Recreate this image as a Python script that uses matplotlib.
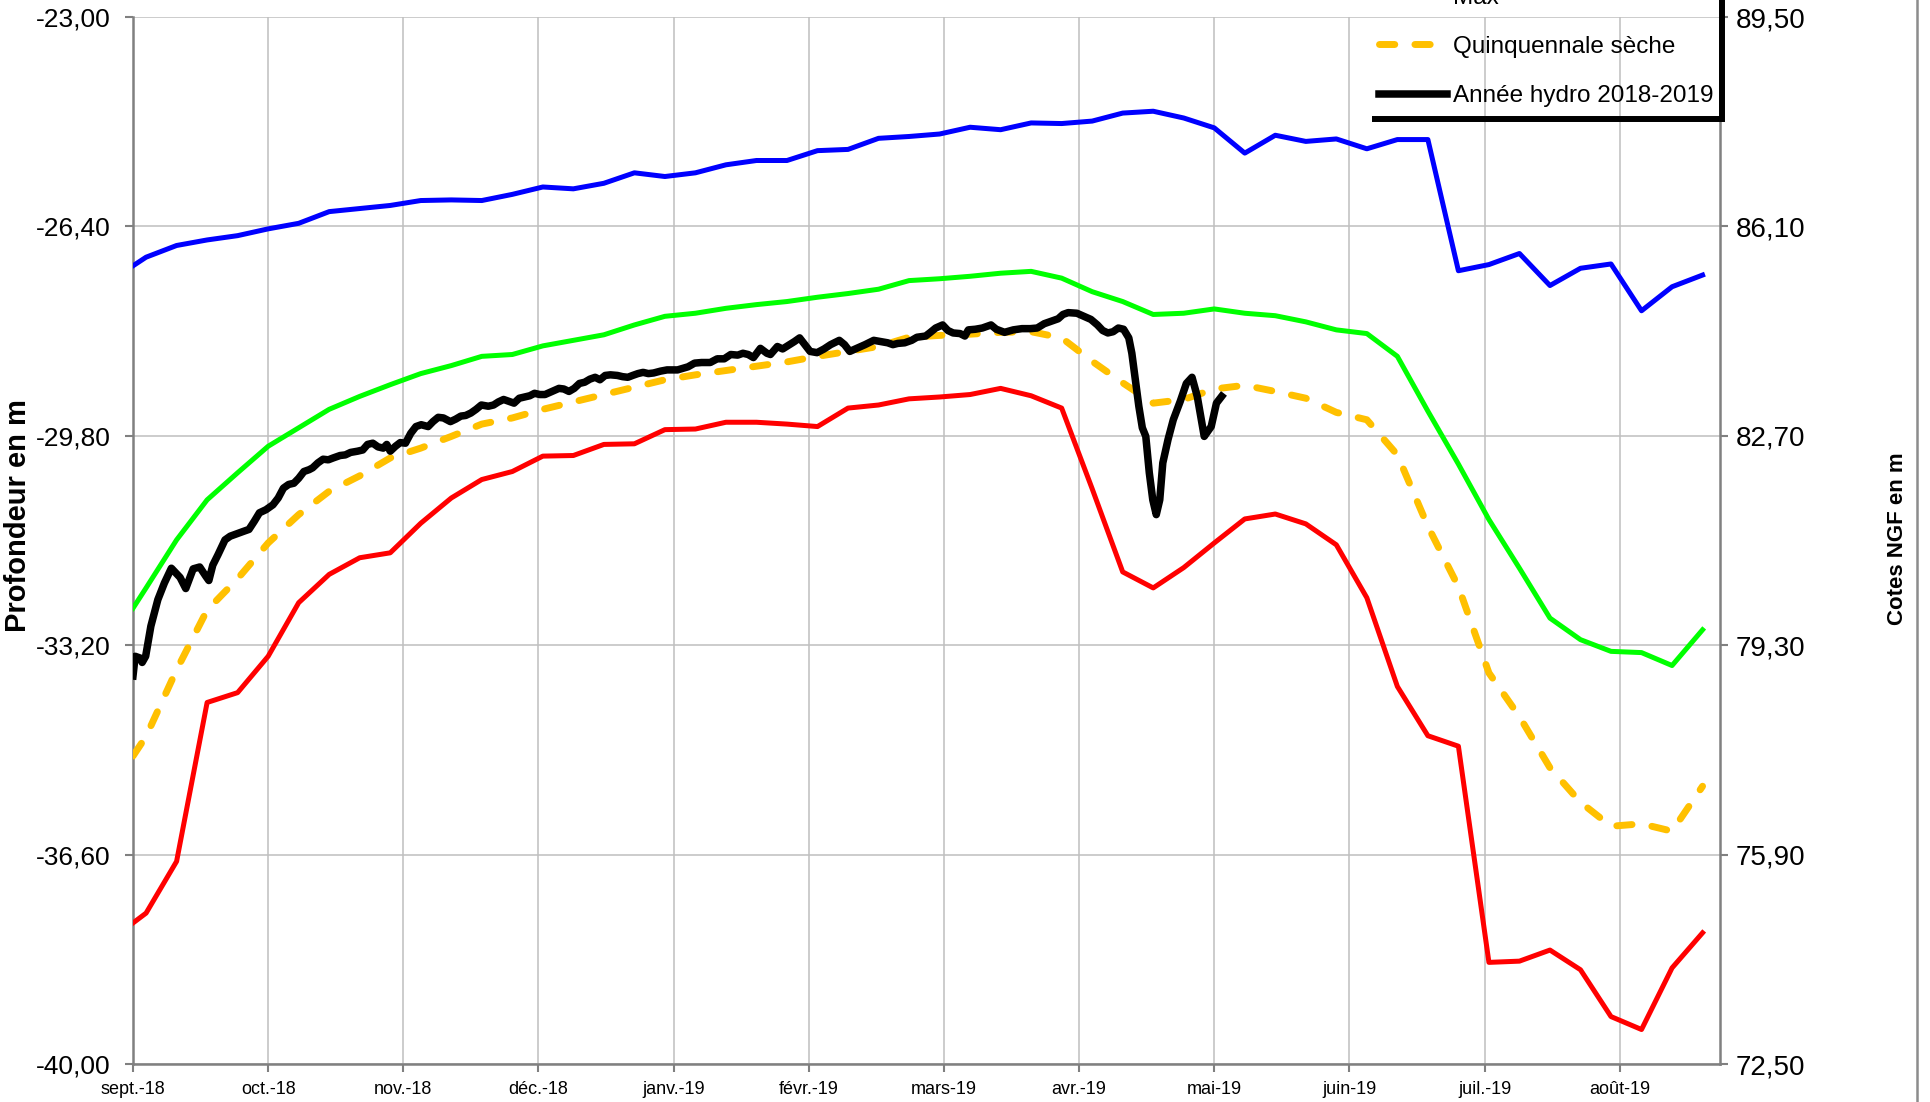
import matplotlib
matplotlib.use("Agg")
import matplotlib.pyplot as plt
from matplotlib.lines import Line2D
import numpy as np

plt.rcParams['font.family'] = ['Liberation Sans', 'DejaVu Sans']

# x axis: day index since 1 Sept 2018, month labels every 31 days
month_labels = ['sept.-18', 'oct.-18', 'nov.-18', 'déc.-18', 'janv.-19', 'févr.-19',
                'mars-19', 'avr.-19', 'mai-19', 'juin-19', 'juil.-19', 'août-19']
month_days = [0, 31, 62, 93, 124, 155, 186, 217, 248, 279, 310, 341]

# weekly reference series: first point on 1 Sept, then every 7 days from day 3
ref_days = [0] + [3 + 7 * k for k in range(52)]

max_vals = [-27.04, -26.90, -26.71, -26.62, -26.55, -26.44, -26.35, -26.16, -26.11, -26.06,
            -25.98, -25.97, -25.98, -25.88, -25.76, -25.79, -25.70, -25.53, -25.59, -25.53,
            -25.40, -25.33, -25.33, -25.17, -25.15, -24.97, -24.94, -24.90, -24.79, -24.83,
            -24.72, -24.73, -24.69, -24.56, -24.53, -24.64, -24.80, -25.21, -24.92, -25.02,
            -24.98, -25.14, -24.99, -24.99, -27.12, -27.02, -26.84, -27.36, -27.08, -27.01,
            -27.77, -27.38, -27.19]

moy_vals = [-32.60, -32.27, -31.49, -30.84, -30.40, -29.97, -29.67, -29.37, -29.16, -28.97,
            -28.79, -28.66, -28.51, -28.48, -28.34, -28.25, -28.16, -28.00, -27.86, -27.81,
            -27.73, -27.67, -27.62, -27.55, -27.49, -27.42, -27.28, -27.25, -27.21, -27.16,
            -27.13, -27.24, -27.46, -27.62, -27.83, -27.81, -27.74, -27.81, -27.85, -27.95,
            -28.08, -28.14, -28.51, -29.40, -30.26, -31.16, -31.95, -32.76, -33.11, -33.30,
            -33.32, -33.53, -32.95]

min_vals = [-37.71, -37.55, -36.71, -34.13, -33.97, -33.38, -32.51, -32.05, -31.78, -31.70,
            -31.22, -30.81, -30.51, -30.38, -30.13, -30.12, -29.94, -29.93, -29.70, -29.69,
            -29.58, -29.58, -29.61, -29.65, -29.35, -29.30, -29.20, -29.17, -29.13, -29.03,
            -29.15, -29.35, -30.66, -32.01, -32.27, -31.94, -31.54, -31.15, -31.07, -31.23,
            -31.57, -32.43, -33.87, -34.67, -34.84, -38.35, -38.33, -38.15, -38.47, -39.23,
            -39.44, -38.44, -37.87]

quinq_vals = [-35.00, -34.68, -33.60, -32.63, -32.12, -31.54, -31.08, -30.70, -30.45, -30.16,
              -30.00, -29.81, -29.61, -29.51, -29.37, -29.25, -29.13, -29.01, -28.89, -28.81,
              -28.74, -28.67, -28.60, -28.51, -28.43, -28.35, -28.20, -28.17, -28.15, -28.12,
              -28.11, -28.21, -28.59, -28.94, -29.27, -29.21, -29.04, -28.98, -29.08, -29.19,
              -29.42, -29.54, -30.11, -31.27, -32.25, -33.65, -34.36, -35.19, -35.75, -36.14,
              -36.10, -36.22, -35.49]

hydro_days = [0.0, 0.5, 1.7, 2.1, 2.9, 4.1, 5.7, 7.2, 8.8, 10.8, 12.1, 13.8, 15.3, 16.7, 17.4,
              18.3, 19.5, 21.1, 22.3, 24.2, 25.4, 26.6, 27.8, 29.0, 30.5, 32.1, 33.3, 34.5,
              35.7, 36.9, 38.0, 39.2, 40.4, 41.2, 42.4, 43.6, 44.8, 45.9, 47.5, 48.7, 49.9,
              51.5, 52.7, 53.8, 55.0, 56.2, 57.4, 58.2, 59.0, 60.2, 61.3, 62.5, 63.7, 64.9,
              66.1, 67.7, 68.8, 70.0, 71.2, 72.8, 74.0, 75.2, 76.3, 77.5, 78.7, 79.9, 81.5,
              82.7, 83.8, 85.0, 86.2, 87.4, 88.6, 89.8, 91.0, 92.1, 93.3, 94.5, 96.1, 97.7,
              98.8, 100.0, 101.2, 102.4, 103.6, 104.8, 106.0, 107.1, 108.3, 109.5, 111.1,
              112.3, 113.5, 114.6, 115.8, 117.0, 118.2, 119.4, 121.0, 122.5, 124.9, 127.3,
              128.8, 130.4, 132.4, 134.0, 135.6, 137.1, 138.7, 139.9, 141.1, 142.3, 143.9,
              145.4, 146.2, 147.8, 149.0, 150.6, 151.7, 152.9, 154.1, 155.3, 156.9, 158.5,
              160.0, 162.0, 163.2, 164.4, 166.0, 167.9, 169.9, 171.5, 173.1, 174.3, 175.4,
              177.0, 178.6, 179.8, 181.8, 182.9, 184.1, 185.7, 186.9, 188.1, 189.7, 190.8,
              191.6, 193.2, 194.8, 196.8, 198.0, 199.9, 201.9, 203.9, 205.8, 207.4, 209.0,
              210.6, 212.2, 213.3, 214.5, 216.5, 218.1, 219.7, 221.2, 222.4, 223.6, 224.8,
              226.0, 227.2, 228.4, 229.1, 229.9, 230.7, 231.5, 232.3, 233.1, 233.9, 234.7,
              235.5, 236.2, 237.4, 238.6, 240.2, 241.6, 242.9, 244.1, 245.7, 247.3, 248.5,
              249.7]
hydro_vals = [-33.70, -33.38, -33.41, -33.48, -33.38, -32.89, -32.46, -32.19, -31.95, -32.10,
              -32.28, -31.96, -31.93, -32.08, -32.15, -31.90, -31.73, -31.49, -31.43, -31.38,
              -31.35, -31.32, -31.19, -31.05, -31.00, -30.92, -30.81, -30.65, -30.59, -30.57,
              -30.49, -30.38, -30.35, -30.32, -30.24, -30.18, -30.19, -30.16, -30.12, -30.11,
              -30.07, -30.05, -30.03, -29.94, -29.92, -29.98, -30.00, -29.94, -30.05, -29.97,
              -29.91, -29.92, -29.76, -29.65, -29.62, -29.65, -29.57, -29.50, -29.51, -29.57,
              -29.53, -29.48, -29.47, -29.43, -29.37, -29.30, -29.32, -29.30, -29.25, -29.21,
              -29.24, -29.27, -29.19, -29.17, -29.15, -29.11, -29.13, -29.13, -29.08, -29.03,
              -29.04, -29.08, -29.03, -28.95, -28.93, -28.88, -28.85, -28.89, -28.82, -28.81,
              -28.82, -28.84, -28.85, -28.82, -28.79, -28.77, -28.79, -28.78, -28.75, -28.73,
              -28.73, -28.68, -28.62, -28.61, -28.61, -28.55, -28.55, -28.48, -28.49, -28.46,
              -28.48, -28.53, -28.38, -28.46, -28.48, -28.35, -28.39, -28.32, -28.27, -28.21,
              -28.32, -28.43, -28.45, -28.39, -28.32, -28.25, -28.32, -28.43, -28.38, -28.32,
              -28.25, -28.27, -28.29, -28.32, -28.30, -28.29, -28.25, -28.20, -28.18, -28.12,
              -28.05, -28.00, -28.09, -28.13, -28.14, -28.18, -28.08, -28.07, -28.05, -28.00,
              -28.07, -28.12, -28.08, -28.06, -28.06, -28.05, -27.98, -27.94, -27.90, -27.83,
              -27.80, -27.81, -27.86, -27.91, -28.00, -28.09, -28.13, -28.11, -28.05, -28.07,
              -28.21, -28.46, -28.89, -29.32, -29.67, -29.81, -30.40, -30.84, -31.08, -30.84,
              -30.24, -29.86, -29.54, -29.24, -28.95, -28.85, -29.16, -29.81, -29.65, -29.27,
              -29.16]

depth_ticks = [-40.0, -36.6, -33.2, -29.8, -26.4, -23.0]
ngf_ticks = [72.5, 75.9, 79.3, 82.7, 86.1, 89.5]


def fr(v):
    return f"{v:.2f}".replace('.', ',')


W, H = 1931, 1102
fig = plt.figure(figsize=(W / 100, H / 100), dpi=100)
ax = fig.add_axes([133 / W, 1 - 1064 / H, (1720 - 133) / W, (1064 - 17) / H])

grid_c = '#BFBFBF'
spine_c = '#808080'

l_min, = ax.plot(ref_days, min_vals, color='#FF0000', lw=3.6, label='Min', zorder=3)
l_moy, = ax.plot(ref_days, moy_vals, color='#00FF00', lw=3.6, label='Moyenne', zorder=3)
l_max, = ax.plot(ref_days, max_vals, color='#0000FF', lw=3.6, label='Max', zorder=3)
l_q, = ax.plot(ref_days, quinq_vals, color='#FFC000', lw=5, ls=(0, (2.2, 2.9)),
               dash_capstyle='round', label='Quinquennale sèche', zorder=4)
l_h, = ax.plot(hydro_days, hydro_vals, color='black', lw=5.4, solid_joinstyle='round',
               label='Année hydro 2018-2019', zorder=5)

ax.set_xlim(0, 364)
ax.set_ylim(-40, -23)
ax.set_xticks(month_days)
ax.set_xticklabels(month_labels, fontsize=13)
ax.set_yticks(depth_ticks)
ax.set_yticklabels([fr(v) for v in depth_ticks], fontsize=19)
ax.grid(True, color=grid_c, lw=1.1, zorder=0)
ax.set_axisbelow(True)
for s in ['left', 'bottom']:
    ax.spines[s].set_color(spine_c)
    ax.spines[s].set_linewidth(1.8)
ax.spines['top'].set_visible(False)
ax.spines['right'].set_visible(False)
ax.tick_params(axis='both', colors=spine_c, length=6, width=1.5, labelcolor='black')
ax.tick_params(axis='y', pad=10)
ax.tick_params(axis='x', pad=6)

ax2 = ax.twinx()
ax2.set_ylim(72.5, 89.5)
ax2.set_yticks(ngf_ticks)
ax2.set_yticklabels([fr(v) for v in ngf_ticks], fontsize=20)
for s in ['left', 'bottom', 'top']:
    ax2.spines[s].set_visible(False)
ax2.spines['right'].set_color(spine_c)
ax2.spines['right'].set_linewidth(1.8)
ax2.tick_params(axis='y', colors=spine_c, length=6, width=1.5, labelcolor='black', pad=5)

fig.text(18 / W, 1 - 516 / H, 'Profondeur en m', rotation=90, ha='center', va='center',
         fontsize=21, fontweight='bold')
fig.text(1898 / W, 1 - 539 / H, 'Cotes NGF en m', rotation=90, ha='center', va='center',
         fontsize=16, fontweight='bold')

leg = ax2.legend(handles=[l_min, l_moy, l_max, l_q, l_h], loc='lower right',
                 bbox_to_anchor=(1718 / W, 1 - 112 / H), bbox_transform=fig.transFigure,
                 frameon=False, fontsize=17.5, handlelength=2.8, handletextpad=0.25,
                 labelspacing=1.12, borderpad=0.2, borderaxespad=0)
leg.set_zorder(10)

# Excel-like black shadow on the legend box (right and bottom edges)
fig.canvas.draw()
bb = leg.get_window_extent()
x0, x1 = (bb.x0 - 2) / W, (bb.x1 + 4) / W
yb = (bb.y0 - 7) / H
fig.add_artist(Line2D([x0, x1], [yb, yb], color='black', lw=4.3, solid_capstyle='butt'))
fig.add_artist(Line2D([x1, x1], [yb - 3 / H, 1.0], color='black', lw=4.3,
                      solid_capstyle='butt'))
# chart area border on the far right
fig.add_artist(Line2D([1917 / W, 1917 / W], [0, 1], color='#8C8C8C', lw=1.8))

fig.savefig('out.png', dpi=100)
